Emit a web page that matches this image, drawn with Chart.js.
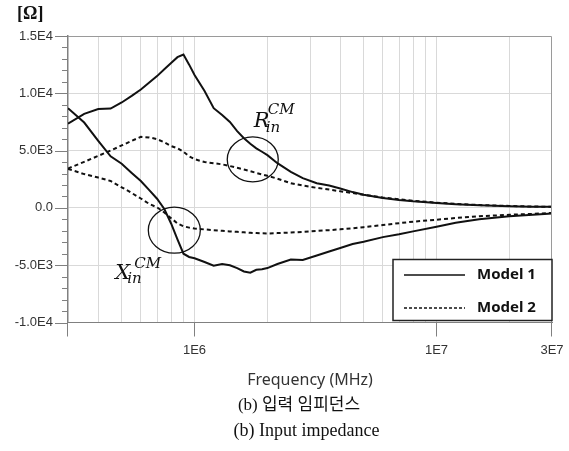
<!DOCTYPE html>
<html>
<head>
<meta charset="utf-8">
<script src="https://cdn.jsdelivr.net/npm/chart.js@4.4.0/dist/chart.umd.min.js"></script>
<style>
  body { margin: 0; background: #fff; }
  #wrap { position: relative; width: 569px; height: 451px; }
  #unit { position: absolute; left: 17px; top: 3px; font: bold 18px "Liberation Serif", serif; color: #111; }
  .cap { position: absolute; left: 0; text-align: center; line-height: 20px; color: #111;
         font-family: "Liberation Serif", "Noto Sans CJK KR", serif; white-space: nowrap; }
</style>
</head>
<body>
<div id="wrap">
  <canvas id="c" width="569" height="451"></canvas>
  <div id="unit">[Ω]</div>
  <div class="cap" style="top:395px; width:598px; font-size:17px;">(b) 입력 임피던스</div>
  <div class="cap" style="top:420px; width:613px; font-size:18px;">(b) Input impedance</div>
</div>
<script>
// frequency points (MHz axis, log scale)
const freq = [3e5, 3.5e5, 4e5, 4.5e5, 5e5, 5.5e5, 6e5, 6.5e5, 7e5, 7.5e5, 8e5, 8.5e5, 9e5, 9.5e5,
  1e6, 1.1e6, 1.2e6, 1.3e6, 1.4e6, 1.5e6, 1.6e6, 1.7e6, 1.8e6, 1.9e6, 2e6, 2.2e6, 2.5e6, 2.8e6,
  3.2e6, 3.6e6, 4e6, 4.5e6, 5e6, 6e6, 7e6, 8e6, 1e7, 1.2e7, 1.5e7, 2e7, 2.5e7, 3e7];

// Model 1 (solid)
const rModel1 = [7350, 8200, 8620, 8670, 9200, 9770, 10330, 10950, 11500, 12100, 12640, 13150, 13380, 12500,
  11600, 10200, 8700, 8100, 7500, 6700, 6080, 5600, 5200, 4900, 4600, 3900, 3150, 2600,
  2150, 1950, 1700, 1380, 1150, 870, 690, 570, 420, 320, 230, 150, 110, 90];
const xModel1 = [8700, 7450, 5850, 4500, 3850, 3050, 2350, 1550, 800, -100, -1360, -2750, -4000, -4280,
  -4400, -4720, -5050, -4900, -5000, -5250, -5550, -5650, -5400, -5350, -5250, -4900, -4500, -4550,
  -4150, -3800, -3500, -3150, -2950, -2550, -2300, -2050, -1650, -1300, -1000, -730, -600, -490];

// Model 2 (dashed)
const rModel2 = [3440, 4020, 4540, 5000, 5450, 5850, 6200, 6150, 6000, 5720, 5400, 5200, 4900, 4500,
  4250, 4000, 3900, 3800, 3650, 3500, 3350, 3200, 3050, 2920, 2800, 2550, 2150, 1950,
  1750, 1600, 1450, 1300, 1150, 900, 750, 620, 460, 350, 250, 170, 120, 100];
const xModel2 = [3400, 2950, 2650, 2350, 1800, 1300, 820, 350, 50, -400, -900, -1350, -1600, -1720,
  -1800, -1880, -1940, -2000, -2050, -2090, -2130, -2170, -2200, -2220, -2230, -2200, -2150, -2090,
  -2000, -1940, -1870, -1780, -1680, -1500, -1330, -1200, -1030, -880, -730, -600, -520, -440];

const xTickValues = [1e6, 1e7, 3e7];
const xTickLabels = ['1E6', '1E7', '3E7'];
const yTickValues = [15000, 10000, 5000, 0, -5000, -10000];
const yTickLabels = ['1.5E4', '1.0E4', '5.0E3', '0.0', '-5.0E3', '-1.0E4'];

const xMin = 3e5, xMax = 3e7, yMin = -10000, yMax = 15000;

// log grid: 1..9 x 10^n inside the range
const xGrid = [];
for (let d = 5; d <= 7; d++) {
  for (let k = 1; k <= 9; k++) {
    const v = k * Math.pow(10, d);
    if (v >= xMin && v <= xMax) xGrid.push(v);
  }
}
const yGrid = [];
for (let v = yMin; v <= yMax; v += 1000) yGrid.push(v);

const pts = arr => freq.map((f, i) => ({ x: f, y: arr[i] }));
const solid = { borderColor: '#111', borderWidth: 2, pointRadius: 0, tension: 0, fill: false };
const dashed = { ...solid, borderDash: [4, 3] };

const decor = {
  id: 'decor',
  afterDatasetsDraw(chart) {
    const { ctx, chartArea: a, scales: { x, y } } = chart;
    ctx.save();

    // frame top / right
    ctx.strokeStyle = '#9a9a9a';
    ctx.lineWidth = 1;
    ctx.beginPath();
    ctx.moveTo(a.left, a.top + 0.5);
    ctx.lineTo(a.right - 0.5, a.top + 0.5);
    ctx.lineTo(a.right - 0.5, a.bottom);
    ctx.stroke();

    // tick marks
    ctx.strokeStyle = '#808080';
    ctx.beginPath();
    yGrid.forEach(v => {
      const py = Math.round(y.getPixelForValue(v)) + 0.5;
      const len = v % 5000 === 0 ? 13 : 6;
      ctx.moveTo(a.left - len, py);
      ctx.lineTo(a.left, py);
    });
    [xMin, ...xTickValues].forEach(v => {
      const px = Math.round(x.getPixelForValue(v)) - 0.5;
      ctx.moveTo(px, a.bottom);
      ctx.lineTo(px, a.bottom + 14);
    });
    ctx.stroke();

    // annotation circles
    const marks = [
      { f: 1.74e6, v: 4230, rx: 25.5, ry: 22.5 },
      { f: 8.25e5, v: -1945, rx: 26, ry: 23 }
    ];
    ctx.strokeStyle = '#111';
    ctx.lineWidth = 1.3;
    const c = marks.map(m => ({ cx: x.getPixelForValue(m.f), cy: y.getPixelForValue(m.v) }));
    marks.forEach((m, i) => {
      ctx.beginPath();
      ctx.ellipse(c[i].cx, c[i].cy, m.rx, m.ry, 0, 0, Math.PI * 2);
      ctx.stroke();
    });

    // R_in^CM and X_in^CM
    ctx.fillStyle = '#111';
    ctx.textBaseline = 'alphabetic';
    ctx.textAlign = 'left';
    const big = 'italic 21px "DejaVu Serif", serif';
    const small = 'italic 15px "DejaVu Serif", serif';
    ctx.font = big;   ctx.fillText('R', c[0].cx + 1, c[0].cy - 32);
    ctx.font = small; ctx.fillText('CM', c[0].cx + 15, c[0].cy - 45);
    ctx.fillText('in', c[0].cx + 13, c[0].cy - 27);
    ctx.font = big;   ctx.fillText('X', c[1].cx - 59, c[1].cy + 49);
    ctx.font = small; ctx.fillText('CM', c[1].cx - 40, c[1].cy + 38);
    ctx.fillText('in', c[1].cx - 47, c[1].cy + 53);

    // legend box
    const lb = { l: a.right - 159, t: a.bottom - 63, w: 159, h: 61 };
    ctx.fillStyle = '#fff';
    ctx.fillRect(lb.l, lb.t, lb.w, lb.h);
    ctx.strokeStyle = '#222';
    ctx.lineWidth = 1.5;
    ctx.strokeRect(lb.l, lb.t, lb.w, lb.h);
    const items = [chart.data.datasets[0], chart.data.datasets[2]];
    const rows = [lb.t + 15, lb.t + 48];
    items.forEach((ds, i) => {
      ctx.beginPath();
      ctx.lineWidth = 1.5;
      ctx.strokeStyle = '#111';
      ctx.setLineDash(ds.borderDash ? [3, 2] : []);
      ctx.moveTo(lb.l + 11, rows[i] + 0.5);
      ctx.lineTo(lb.l + 72, rows[i] + 0.5);
      ctx.stroke();
      ctx.setLineDash([]);
      ctx.fillStyle = '#111';
      ctx.font = 'bold 15px "Noto Sans", sans-serif';
      ctx.textBaseline = 'middle';
      ctx.fillText(ds.label, lb.l + 84, rows[i]);
    });
    ctx.restore();
  }
};

new Chart(document.getElementById('c'), {
  type: 'line',
  data: {
    datasets: [
      { label: 'Model 1', data: pts(rModel1), ...solid },
      { label: 'Model 1', data: pts(xModel1), ...solid },
      { label: 'Model 2', data: pts(rModel2), ...dashed },
      { label: 'Model 2', data: pts(xModel2), ...dashed }
    ]
  },
  options: {
    responsive: false,
    animation: false,
    devicePixelRatio: 1,
    layout: { padding: { top: 36, right: 17, bottom: 56, left: 0 } },
    plugins: { legend: { display: false }, tooltip: { enabled: false } },
    scales: {
      x: {
        type: 'logarithmic',
        min: xMin, max: xMax,
        afterBuildTicks: s => { s.ticks = xGrid.map(v => ({ value: v })); },
        afterFit: s => { s.height = 72.5; s.paddingLeft = 0; s.paddingRight = 0; },
        grid: {
          drawTicks: false,
          color: ctx => (ctx.tick && (ctx.tick.value === xMin || ctx.tick.value === xMax)) ? 'rgba(0,0,0,0)' : '#d9d9d9'
        },
        border: { display: true, color: '#808080', width: 1 },
        ticks: {
          autoSkip: false, maxRotation: 0, padding: 20,
          color: '#333',
          font: { family: '"Liberation Sans", Arial, sans-serif', size: 13 },
          callback: v => { const i = xTickValues.indexOf(v); return i >= 0 ? xTickLabels[i] : ''; }
        },
        title: {
          display: true, text: 'Frequency (MHz)', color: '#333',
          font: { family: '"Noto Sans", sans-serif', size: 16 },
          padding: { top: 0, bottom: 5 }
        }
      },
      y: {
        min: yMin, max: yMax,
        afterBuildTicks: s => { s.ticks = yGrid.map(v => ({ value: v })); },
        afterFit: s => { s.width = 68; s.paddingTop = 0; s.paddingBottom = 0; },
        grid: {
          drawTicks: false,
          color: ctx => (ctx.tick && ctx.tick.value % 5000 === 0 && ctx.tick.value !== yMin && ctx.tick.value !== yMax) ? '#d9d9d9' : 'rgba(0,0,0,0)'
        },
        border: { display: true, color: '#808080', width: 1.5 },
        ticks: {
          autoSkip: false, padding: 15,
          color: '#333',
          font: { family: '"Liberation Sans", Arial, sans-serif', size: 13 },
          callback: v => { const i = yTickValues.indexOf(v); return i >= 0 ? yTickLabels[i] : ''; }
        }
      }
    }
  },
  plugins: [decor]
});
</script>
</body>
</html>
